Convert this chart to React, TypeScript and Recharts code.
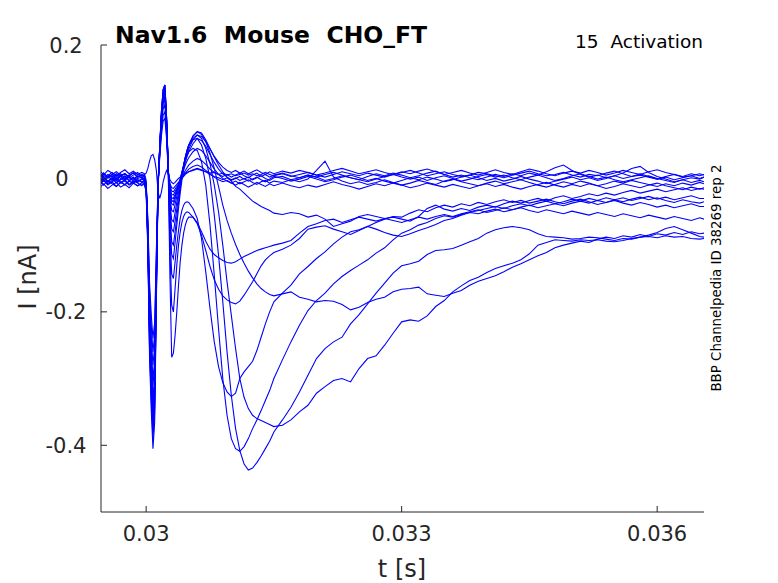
import { Line, LineChart, XAxis, YAxis } from 'recharts'

/*
 * Activation sweeps, Nav1.6 in CHO cells (BBP Channelpedia, ID 38269 rep 2).
 * One shared time base, fifteen current traces in nA. Values are read off
 * the reference plot: capacitive artefact around 30 ms, then the Na current.
 */

const timeS = [
  0.02947, 0.0295, 0.02955, 0.0296, 0.02965, 0.0297, 0.02975, 0.0298, 0.02985, 0.0299, 0.02995, 0.02998,
  0.03, 0.03002, 0.03004, 0.03006, 0.03008, 0.0301, 0.03012, 0.03014, 0.03016, 0.03018, 0.0302, 0.03022, 0.03024,
  0.03026, 0.03028, 0.0303, 0.03032, 0.03034, 0.03036, 0.03038, 0.0304, 0.03042, 0.03044, 0.03046, 0.03048, 0.0305,
  0.03055, 0.0306, 0.03065, 0.0307, 0.03075, 0.0308, 0.03085, 0.0309, 0.03095, 0.031, 0.03105, 0.0311, 0.03115,
  0.0312, 0.03125, 0.0313, 0.03135, 0.0314, 0.03145, 0.0315,
  0.0316, 0.0317, 0.0318, 0.0319, 0.032, 0.0321, 0.0322, 0.0323, 0.0324, 0.0325, 0.0326, 0.0327, 0.0328, 0.0329,
  0.033, 0.0331, 0.0332, 0.0333, 0.0334, 0.0335, 0.0336, 0.0337, 0.0338, 0.0339, 0.034, 0.0341, 0.0342, 0.0343,
  0.0344, 0.0345, 0.0346, 0.0347, 0.0348, 0.0349, 0.035, 0.0351, 0.0352, 0.0353, 0.0354, 0.0355, 0.0356, 0.0357,
  0.0358, 0.0359, 0.036, 0.0361, 0.0362, 0.0363, 0.0364, 0.0365, 0.03655,
]

// sub-threshold sweeps: artefact only, then noise around zero
const sweep01 = [
  0.004, 0.008, 0.002, 0.006, 0.01, 0.005, 0.007, 0.003, 0.009, 0.006, 0.004, 0.006,
  0.008, 0.015, 0.026, 0.034, 0.036, 0.028, 0.012, -0.02, -0.03, -0.02, -0.005, 0.005, 0.012, 0.006, -0.002, -0.006, -0.008, -0.006, -0.003, 0.0, 0.002, 0.004, 0.006, 0.008, 0.009, 0.01,
  0.012, 0.014, 0.012, 0.01, 0.008, 0.009, 0.006, 0.008, 0.005, 0.007, 0.004, 0.006, 0.008, 0.005, 0.007, 0.004, 0.006, 0.009, 0.006, 0.004,
  0.007, 0.003, 0.006, 0.009, 0.005, 0.002, 0.006, 0.01, 0.007, 0.004, 0.008, 0.005, 0.002, 0.006, 0.009, 0.012, 0.008, 0.004, 0.007, 0.01, 0.006, 0.003, 0.005, 0.009, 0.007, 0.004, 0.001, 0.005, 0.008, 0.011, 0.007, 0.004, 0.006, 0.009, 0.005, 0.002, 0.006, 0.004, 0.008, 0.011, 0.007, 0.003, 0.005, 0.002, -0.001, 0.003, 0.006, 0.002, 0.004, 0.007, 0.005,
]
const sweep02 = [
  -0.004, 0.002, -0.006, 0.001, -0.003, 0.004, -0.002, 0.003, -0.005, 0.0, 0.002, -0.001,
  -0.007, -0.06, -0.156, -0.204, -0.24, -0.216, -0.108, -0.007, 0.032, 0.065, 0.086, 0.09, 0.059, 0.009, -0.008, -0.014, -0.015, -0.012, -0.009, -0.006, -0.003, 0.0, 0.003, 0.006, 0.008, 0.01,
  0.013, 0.015, 0.013, 0.01, 0.006, 0.003, 0.001, -0.002, 0.001, -0.003, 0.0, 0.003, -0.001, 0.002, -0.002, 0.001, 0.004, 0.0, -0.003, 0.001,
  0.003, -0.002, 0.001, 0.005, 0.002, -0.003, 0.0, 0.004, 0.001, -0.002, -0.005, -0.001, 0.003, 0.006, 0.002, -0.001, 0.002, -0.003, 0.001, 0.004, 0.0, -0.004, -0.001, 0.003, 0.006, 0.002, 0.005, 0.001, -0.002, 0.002, 0.005, 0.001, -0.003, 0.0, 0.004, 0.007, 0.003, -0.001, 0.002, -0.002, -0.005, -0.002, 0.001, 0.004, 0.0, -0.003, -0.006, -0.002, 0.001, -0.001, 0.002,
]
const sweep03 = [
  -0.008, -0.003, -0.01, -0.005, -0.012, -0.006, -0.009, -0.004, -0.007, -0.011, -0.006, -0.004,
  -0.012, -0.065, -0.169, -0.221, -0.26, -0.234, -0.117, -0.008, 0.035, 0.072, 0.095, 0.1, 0.065, 0.01, -0.011, -0.019, -0.02, -0.016, -0.012, -0.008, -0.004, 0.0, 0.004, 0.008, 0.011, 0.014,
  0.018, 0.02, 0.017, 0.012, 0.007, 0.002, -0.002, -0.005, -0.003, -0.007, -0.004, -0.008, -0.005, -0.002, -0.006, -0.009, -0.005, -0.003, -0.007, -0.004,
  -0.006, -0.002, -0.005, -0.001, 0.012, 0.026, 0.002, -0.004, -0.008, -0.005, -0.009, -0.006, -0.002, -0.006, -0.01, -0.007, -0.003, -0.006, -0.009, -0.004, -0.001, -0.005, -0.008, -0.011, -0.007, -0.004, -0.008, -0.005, -0.002, -0.006, -0.01, -0.013, -0.009, -0.005, -0.008, -0.004, -0.007, -0.011, -0.008, -0.004, -0.007, -0.003, -0.006, -0.009, -0.012, -0.008, -0.011, -0.007, -0.01, -0.006, -0.008,
]
const sweep04 = [
  0.006, 0.001, 0.004, 0.009, 0.003, 0.007, 0.0, 0.005, 0.008, 0.002, 0.006, 0.003,
  -0.008, -0.07, -0.182, -0.238, -0.28, -0.252, -0.126, -0.008, 0.039, 0.079, 0.105, 0.11, 0.072, 0.011, -0.014, -0.024, -0.025, -0.02, -0.015, -0.01, -0.005, 0.001, 0.007, 0.012, 0.016, 0.02,
  0.026, 0.03, 0.027, 0.021, 0.014, 0.009, 0.006, 0.003, 0.006, 0.002, 0.005, 0.008, 0.004, 0.001, 0.005, 0.008, 0.003, 0.006, 0.002, 0.005,
  0.008, 0.004, 0.001, 0.005, 0.002, 0.006, 0.009, 0.005, 0.001, -0.002, 0.003, 0.007, 0.004, 0.008, 0.005, 0.001, 0.004, 0.008, 0.011, 0.006, 0.002, 0.005, 0.001, -0.002, 0.002, 0.006, 0.003, 0.007, 0.004, 0.008, 0.005, 0.01, 0.016, 0.02, 0.012, 0.006, 0.002, 0.005, 0.001, 0.004, 0.0, 0.003, 0.007, 0.003, -0.001, 0.002, -0.002, 0.001, 0.004, 0.0, 0.002,
]
const sweep05 = [
  -0.012, -0.008, -0.015, -0.01, -0.006, -0.013, -0.009, -0.014, -0.007, -0.011, -0.008, -0.01,
  -0.018, -0.083, -0.199, -0.258, -0.3, -0.273, -0.14, -0.012, 0.04, 0.084, 0.113, 0.12, 0.077, 0.01, -0.017, -0.029, -0.03, -0.024, -0.017, -0.01, -0.003, 0.005, 0.013, 0.02, 0.026, 0.031,
  0.04, 0.045, 0.042, 0.034, 0.024, 0.014, 0.006, 0.0, -0.004, -0.007, -0.01, -0.006, -0.009, -0.013, -0.01, -0.006, -0.009, -0.012, -0.008, -0.011,
  -0.007, -0.011, -0.014, -0.01, -0.013, -0.009, -0.005, -0.009, -0.012, -0.016, -0.012, -0.008, -0.011, -0.007, -0.01, -0.014, -0.011, -0.007, -0.01, -0.013, -0.009, -0.012, -0.015, -0.011, -0.008, -0.012, -0.009, -0.013, -0.016, -0.012, -0.009, -0.006, -0.01, -0.013, -0.009, -0.012, -0.008, -0.011, -0.015, -0.012, -0.008, -0.011, -0.014, -0.01, -0.007, -0.011, -0.014, -0.017, -0.013, -0.016, -0.014,
]
const sweep06 = [
  -0.003, 0.002, -0.005, 0.0, -0.007, -0.002, 0.003, -0.004, 0.001, -0.006, -0.001, -0.003,
  -0.011, -0.08, -0.204, -0.265, -0.31, -0.282, -0.142, -0.01, 0.044, 0.09, 0.119, 0.125, 0.081, 0.012, -0.019, -0.033, -0.035, -0.027, -0.018, -0.009, 0.0, 0.009, 0.018, 0.026, 0.033, 0.04,
  0.052, 0.06, 0.057, 0.048, 0.036, 0.024, 0.014, 0.007, 0.002, -0.002, 0.001, -0.003, 0.0, -0.004, -0.001, 0.002, -0.002, -0.005, -0.001, 0.003,
  0.0, -0.004, -0.001, 0.003, -0.001, -0.005, -0.002, 0.002, 0.005, 0.001, -0.003, 0.0, -0.004, -0.007, -0.003, 0.001, -0.002, 0.002, -0.001, -0.005, -0.002, 0.002, 0.005, 0.001, -0.003, 0.0, -0.004, -0.001, 0.003, -0.001, -0.004, -0.008, -0.004, -0.001, 0.002, -0.002, 0.001, -0.003, 0.0, 0.004, 0.008, 0.015, 0.018, 0.009, 0.003, -0.001, -0.005, -0.002, -0.006, -0.003, -0.005,
]
const sweep07 = [
  0.01, 0.005, 0.012, 0.008, 0.004, 0.009, 0.013, 0.007, 0.011, 0.006, 0.009, 0.007,
  -0.003, -0.078, -0.212, -0.278, -0.33, -0.297, -0.148, -0.009, 0.046, 0.094, 0.124, 0.13, 0.085, 0.013, -0.022, -0.038, -0.04, -0.031, -0.021, -0.011, -0.001, 0.009, 0.019, 0.028, 0.036, 0.044,
  0.058, 0.065, 0.063, 0.055, 0.044, 0.033, 0.024, 0.017, 0.012, 0.009, 0.012, 0.008, 0.011, 0.007, 0.01, 0.013, 0.009, 0.006, 0.01, 0.007,
  0.011, 0.008, 0.012, 0.009, 0.005, 0.008, 0.012, 0.015, 0.011, 0.007, 0.01, 0.013, 0.009, 0.006, 0.01, 0.007, 0.011, 0.014, 0.01, 0.006, 0.009, 0.012, 0.008, 0.005, 0.009, 0.013, 0.009, 0.006, 0.01, 0.014, 0.011, 0.007, 0.004, 0.008, 0.011, 0.008, 0.012, 0.009, 0.005, 0.008, 0.012, 0.009, 0.006, 0.01, 0.013, 0.009, 0.006, 0.003, 0.007, 0.004, 0.006,
]

// sweeps with inward Na current, threshold first
const sweep08 = [
  0.001, -0.004, 0.003, -0.002, 0.005, 0.0, -0.003, 0.002, -0.001, 0.004, 0.001, -0.002,
  -0.012, -0.087, -0.221, -0.289, -0.34, -0.306, -0.153, -0.01, 0.046, 0.094, 0.124, 0.13, 0.085, 0.013, -0.028, -0.048, -0.05, -0.039, -0.027, -0.015, -0.003, 0.009, 0.02, 0.031, 0.04, 0.048,
  0.063, 0.07, 0.068, 0.058, 0.045, 0.032, 0.02, 0.01, 0.002, -0.004, -0.012, -0.016, -0.022, -0.028, -0.034, -0.038, -0.042, -0.045, -0.048, -0.052,
  -0.054, -0.051, -0.053, -0.058, -0.055, -0.061, -0.072, -0.068, -0.064, -0.057, -0.054, -0.057, -0.06, -0.058, -0.061, -0.064, -0.057, -0.045, -0.04, -0.046, -0.049, -0.045, -0.048, -0.043, -0.04, -0.043, -0.038, -0.034, -0.037, -0.033, -0.03, -0.034, -0.029, -0.026, -0.03, -0.027, -0.023, -0.026, -0.022, -0.025, -0.021, -0.018, -0.022, -0.019, -0.016, -0.02, -0.017, -0.014, -0.018, -0.015, -0.016,
]
const sweep09 = [
  -0.006, -0.001, -0.008, -0.003, 0.001, -0.005, -0.01, -0.004, -0.007, -0.002, -0.005, -0.003,
  -0.014, -0.089, -0.225, -0.294, -0.345, -0.311, -0.155, -0.01, 0.047, 0.097, 0.128, 0.135, 0.088, 0.014, -0.036, -0.062, -0.065, -0.051, -0.036, -0.021, -0.007, 0.007, 0.02, 0.032, 0.042, 0.05,
  0.064, 0.07, 0.066, 0.055, 0.038, 0.015, -0.012, -0.04, -0.063, -0.082, -0.099, -0.114, -0.127, -0.139, -0.149, -0.158, -0.165, -0.17, -0.174, -0.176,
  -0.173, -0.17, -0.178, -0.181, -0.185, -0.183, -0.184, -0.189, -0.197, -0.193, -0.186, -0.181, -0.178, -0.17, -0.166, -0.165, -0.163, -0.173, -0.175, -0.177, -0.172, -0.168, -0.16, -0.154, -0.15, -0.146, -0.14, -0.133, -0.128, -0.122, -0.116, -0.111, -0.104, -0.1, -0.097, -0.094, -0.096, -0.091, -0.088, -0.09, -0.086, -0.088, -0.084, -0.087, -0.083, -0.085, -0.081, -0.084, -0.08, -0.083, -0.082,
]
const sweep10 = [
  0.003, 0.008, 0.002, 0.006, 0.0, 0.004, 0.007, 0.001, 0.005, 0.009, 0.003, 0.005,
  -0.008, -0.085, -0.225, -0.297, -0.35, -0.315, -0.157, -0.008, 0.049, 0.101, 0.133, 0.14, 0.091, 0.014, -0.044, -0.076, -0.08, -0.064, -0.046, -0.028, -0.011, 0.005, 0.019, 0.031, 0.041, 0.049,
  0.06, 0.065, 0.06, 0.045, 0.022, -0.01, -0.05, -0.1, -0.155, -0.205, -0.255, -0.3, -0.328, -0.345, -0.355, -0.36, -0.363, -0.366, -0.369, -0.372,
  -0.37, -0.362, -0.35, -0.34, -0.322, -0.312, -0.303, -0.3, -0.305, -0.285, -0.27, -0.266, -0.25, -0.232, -0.215, -0.212, -0.214, -0.206, -0.192, -0.183, -0.17, -0.161, -0.153, -0.148, -0.141, -0.135, -0.131, -0.127, -0.122, -0.113, -0.1, -0.096, -0.092, -0.093, -0.094, -0.092, -0.093, -0.092, -0.094, -0.095, -0.093, -0.09, -0.088, -0.085, -0.081, -0.075, -0.072, -0.077, -0.082, -0.087, -0.088,
]
const sweep11 = [
  -0.002, 0.003, -0.004, 0.001, -0.006, -0.001, 0.004, -0.003, 0.002, -0.005, 0.0, -0.002,
  -0.013, -0.092, -0.234, -0.306, -0.36, -0.324, -0.162, -0.011, 0.049, 0.101, 0.133, 0.14, 0.091, 0.014, -0.055, -0.095, -0.1, -0.08, -0.058, -0.036, -0.015, 0.004, 0.019, 0.032, 0.042, 0.05,
  0.058, 0.06, 0.05, 0.03, 0.0, -0.055, -0.115, -0.185, -0.26, -0.325, -0.375, -0.408, -0.428, -0.437, -0.434, -0.426, -0.416, -0.405, -0.394, -0.38,
  -0.362, -0.343, -0.32, -0.295, -0.27, -0.255, -0.245, -0.238, -0.218, -0.204, -0.188, -0.172, -0.157, -0.142, -0.131, -0.128, -0.124, -0.114, -0.108, -0.107, -0.105, -0.1, -0.095, -0.09, -0.082, -0.077, -0.074, -0.072, -0.074, -0.077, -0.083, -0.087, -0.088, -0.089, -0.091, -0.09, -0.088, -0.089, -0.091, -0.093, -0.09, -0.091, -0.088, -0.087, -0.089, -0.086, -0.088, -0.087, -0.09, -0.091, -0.09,
]
const sweep12 = [
  0.005, 0.0, 0.006, 0.002, 0.007, 0.003, -0.001, 0.004, 0.008, 0.002, 0.005, 0.003,
  -0.008, -0.09, -0.238, -0.314, -0.37, -0.333, -0.166, -0.008, 0.049, 0.101, 0.133, 0.14, 0.091, 0.014, -0.066, -0.114, -0.12, -0.096, -0.07, -0.045, -0.022, -0.003, 0.013, 0.025, 0.034, 0.04,
  0.045, 0.042, 0.025, -0.01, -0.07, -0.145, -0.225, -0.3, -0.355, -0.39, -0.405, -0.409, -0.402, -0.39, -0.375, -0.362, -0.348, -0.333, -0.318, -0.3,
  -0.272, -0.245, -0.22, -0.198, -0.183, -0.172, -0.158, -0.147, -0.138, -0.13, -0.122, -0.112, -0.104, -0.092, -0.082, -0.077, -0.07, -0.066, -0.06, -0.056, -0.058, -0.054, -0.051, -0.053, -0.049, -0.046, -0.05, -0.047, -0.044, -0.048, -0.051, -0.047, -0.05, -0.053, -0.049, -0.052, -0.055, -0.051, -0.054, -0.057, -0.053, -0.056, -0.059, -0.055, -0.058, -0.061, -0.057, -0.06, -0.063, -0.059, -0.061,
]
const sweep13 = [
  -0.005, -0.01, -0.003, -0.008, -0.012, -0.006, -0.002, -0.009, -0.004, -0.007, -0.011, -0.006,
  -0.018, -0.1, -0.25, -0.325, -0.38, -0.343, -0.172, -0.012, 0.047, 0.097, 0.128, 0.135, 0.088, 0.012, -0.083, -0.143, -0.15, -0.125, -0.1, -0.078, -0.06, -0.048, -0.04, -0.036, -0.035, -0.036,
  -0.045, -0.06, -0.09, -0.14, -0.195, -0.245, -0.282, -0.306, -0.32, -0.327, -0.322, -0.3, -0.29, -0.282, -0.274, -0.258, -0.238, -0.218, -0.2, -0.185,
  -0.172, -0.16, -0.143, -0.132, -0.12, -0.11, -0.098, -0.088, -0.08, -0.077, -0.072, -0.066, -0.061, -0.057, -0.058, -0.052, -0.047, -0.05, -0.044, -0.04, -0.043, -0.038, -0.041, -0.036, -0.039, -0.035, -0.032, -0.036, -0.033, -0.037, -0.034, -0.031, -0.035, -0.038, -0.034, -0.031, -0.035, -0.039, -0.036, -0.033, -0.037, -0.04, -0.036, -0.039, -0.043, -0.04, -0.044, -0.041, -0.038, -0.042, -0.042,
]
const sweep14 = [
  0.002, 0.006, 0.0, 0.004, -0.002, 0.003, 0.007, 0.001, -0.003, 0.002, 0.005, 0.001,
  -0.01, -0.098, -0.254, -0.332, -0.39, -0.351, -0.176, -0.01, 0.045, 0.094, 0.124, 0.13, 0.085, 0.01, -0.11, -0.19, -0.2, -0.165, -0.13, -0.1, -0.08, -0.066, -0.057, -0.052, -0.05, -0.051,
  -0.058, -0.068, -0.085, -0.108, -0.132, -0.152, -0.166, -0.176, -0.182, -0.186, -0.188, -0.184, -0.175, -0.165, -0.155, -0.143, -0.131, -0.122, -0.116, -0.111,
  -0.106, -0.1, -0.09, -0.076, -0.073, -0.071, -0.076, -0.08, -0.084, -0.078, -0.072, -0.076, -0.081, -0.085, -0.087, -0.083, -0.078, -0.074, -0.069, -0.063, -0.06, -0.055, -0.051, -0.048, -0.045, -0.042, -0.045, -0.041, -0.038, -0.041, -0.037, -0.034, -0.038, -0.035, -0.031, -0.034, -0.03, -0.033, -0.029, -0.032, -0.035, -0.031, -0.028, -0.032, -0.029, -0.033, -0.036, -0.032, -0.035, -0.037, -0.035,
]
const sweep15 = [
  -0.008, -0.003, -0.009, -0.005, -0.001, -0.007, -0.004, -0.01, -0.006, -0.002, -0.005, -0.008,
  -0.02, -0.108, -0.268, -0.347, -0.405, -0.366, -0.185, -0.015, 0.04, 0.085, 0.114, 0.12, 0.078, 0.005, -0.15, -0.268, -0.262, -0.235, -0.2, -0.16, -0.125, -0.1, -0.082, -0.07, -0.062, -0.058,
  -0.058, -0.066, -0.08, -0.094, -0.106, -0.114, -0.119, -0.123, -0.126, -0.127, -0.125, -0.121, -0.117, -0.114, -0.111, -0.108, -0.106, -0.104, -0.102, -0.1,
  -0.097, -0.093, -0.082, -0.072, -0.068, -0.063, -0.061, -0.066, -0.062, -0.058, -0.061, -0.064, -0.06, -0.063, -0.066, -0.062, -0.058, -0.061, -0.057, -0.054, -0.057, -0.053, -0.05, -0.047, -0.051, -0.048, -0.044, -0.047, -0.043, -0.04, -0.044, -0.041, -0.038, -0.041, -0.037, -0.034, -0.037, -0.033, -0.036, -0.032, -0.029, -0.033, -0.03, -0.027, -0.031, -0.028, -0.032, -0.029, -0.026, -0.03, -0.03,
]

const sweeps = [
  sweep01, sweep02, sweep03, sweep04, sweep05, sweep06, sweep07, sweep08,
  sweep09, sweep10, sweep11, sweep12, sweep13, sweep14, sweep15,
]

const xTicks = [0.03, 0.033, 0.036]
const yTicks = [-0.4, -0.2, 0, 0.2]

const rows = timeS.map((t, i) => {
  const row: Record<string, number> = { t }
  sweeps.forEach((s, k) => {
    row[`s${k}`] = s[i]
  })
  return row
})

const AXIS = '#262626'
const FONT = '"DejaVu Sans", sans-serif'

// MATLAB-style ticks: marks point into the plot, labels outside
const XTick = ({ x, y, payload }: any) => (
  <g>
    <line x1={x} x2={x} y1={y} y2={y - 6} stroke={AXIS} />
    <text x={x} y={y + 29} textAnchor="middle" fontSize={21} fill={AXIS} fontFamily={FONT}>
      {String(payload.value)}
    </text>
  </g>
)

const YTick = ({ x, y, payload }: any) => {
  const zero = payload.value === 0
  return (
    <g>
      <line x1={x} x2={x + 6} y1={y} y2={y} stroke={AXIS} />
      <text x={zero ? x - 39 : x - 35} y={y + 7.5} textAnchor="middle" fontSize={21} fill={AXIS} fontFamily={FONT}>
        {zero ? '0' : String(payload.value)}
      </text>
    </g>
  )
}

export default function App() {
  return (
    <div style={{ position: 'absolute', left: 0, top: 0, width: 778, height: 583, background: '#fff' }}>
      <LineChart width={778} height={583} data={rows} margin={{ top: 45, right: 74, left: 0, bottom: 0 }}>
        <XAxis
          dataKey="t"
          type="number"
          scale="linear"
          domain={[0.02947, 0.03655]}
          ticks={xTicks}
          interval={0}
          height={71}
          tickSize={0}
          tickMargin={0}
          tickLine={false}
          tick={<XTick />}
          axisLine={{ stroke: AXIS }}
          allowDataOverflow
        />
        <YAxis
          type="number"
          domain={[-0.5, 0.2]}
          ticks={yTicks}
          interval={0}
          width={101}
          tickSize={0}
          tickMargin={0}
          tickLine={false}
          tick={<YTick />}
          axisLine={{ stroke: AXIS }}
          allowDataOverflow
        />
        {sweeps.map((_, k) => (
          <Line
            key={k}
            dataKey={`s${k}`}
            type="linear"
            stroke="#0000ff"
            strokeWidth={1.1}
            dot={false}
            isAnimationActive={false}
          />
        ))}
      </LineChart>
      <svg
        width={778}
        height={583}
        style={{ position: 'absolute', left: 0, top: 0, pointerEvents: 'none' }}
        fontFamily={FONT}
      >
        <text x={115} y={43} fontSize={23.5} fontWeight="bold" fill="#000" style={{ whiteSpace: 'pre' }}>
          {'Nav1.6  Mouse  CHO_FT'}
        </text>
        <text x={703} y={48} fontSize={18.5} textAnchor="end" fill="#000" style={{ whiteSpace: 'pre' }}>
          {'15  Activation'}
        </text>
        <text x={402} y={577} fontSize={24} textAnchor="middle" fill={AXIS}>
          t [s]
        </text>
        <text x={36} y={277} fontSize={24} textAnchor="middle" fill={AXIS} transform="rotate(-90 36 277)">
          I [nA]
        </text>
        <text x={721} y={278} fontSize={13.4} textAnchor="middle" fill="#000" transform="rotate(-90 721 278)">
          BBP Channelpedia ID 38269 rep 2
        </text>
      </svg>
    </div>
  )
}
